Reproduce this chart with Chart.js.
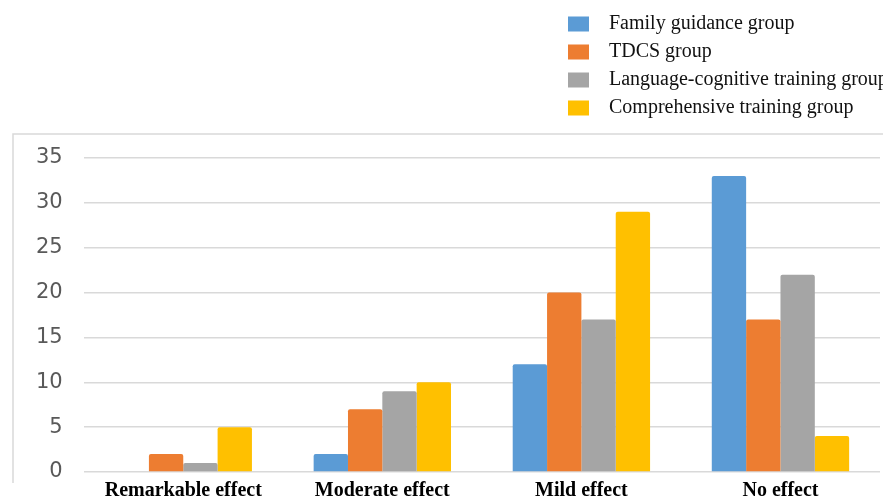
<!DOCTYPE html>
<html>
<head>
<meta charset="utf-8">
<script src="https://cdn.jsdelivr.net/npm/chart.js@4.4.1/dist/chart.umd.min.js"></script>
<style>
  html, body { margin: 0; padding: 0; background: #fff; overflow: hidden; }
  #wrap { width: 883px; height: 510px; }
</style>
</head>
<body>
<div id="wrap"><canvas id="grafico"></canvas></div>
<script>
// Categorías y valores
var categorias = ['Remarkable effect', 'Moderate effect', 'Mild effect', 'No effect'];
var grupos = ['Family guidance group', 'TDCS group', 'Language-cognitive training group', 'Comprehensive training group'];
var familia = [0, 2, 12, 33];
var tdcs = [2, 7, 20, 17];
var lenguaje = [1, 9, 17, 22];
var integral = [5, 10, 29, 4];
var colores = ['#5B9BD5', '#ED7D31', '#A5A5A5', '#FFC000'];

// Leyenda vertical y marco del gráfico
var leyendaMarco = {
  id: 'leyendaMarco',
  afterDraw: function (chart) {
    var c = chart.ctx;
    c.save();
    c.strokeStyle = '#d9d9d9';
    c.lineWidth = 1.5;
    c.beginPath();
    c.moveTo(13, 483);
    c.lineTo(13, 134);
    c.lineTo(883, 134);
    c.stroke();

    c.font = '20px "Liberation Serif", "Times New Roman", serif';
    c.textBaseline = 'middle';
    chart.data.datasets.forEach(function (ds, i) {
      var y = 24 + i * 28;
      c.fillStyle = ds.backgroundColor;
      c.fillRect(568, y - 7.5, 21, 15);
      c.fillStyle = '#111';
      c.fillText(ds.label, 609, y);
    });
    c.restore();
  }
};

var datos = [familia, tdcs, lenguaje, integral];

var config = {
  type: 'bar',
  data: {
    labels: categorias,
    datasets: grupos.map(function (g, i) {
      return {
        label: g,
        data: datos[i],
        backgroundColor: colores[i],
        borderRadius: { topLeft: 2, topRight: 2 },
        borderSkipped: 'bottom',
        categoryPercentage: 0.69,
        barPercentage: 1.0
      };
    })
  },
  options: {
    responsive: true,
    maintainAspectRatio: false,
    animation: false,
    layout: { padding: { top: 158, left: 15, right: 3, bottom: 0 } },
    plugins: {
      legend: { display: false },
      tooltip: { enabled: false }
    },
    scales: {
      x: {
        grid: { display: false, drawTicks: false },
        border: { display: false },
        ticks: {
          color: '#000',
          padding: 9,
          font: { family: '"Liberation Serif", "Times New Roman", serif', size: 20, weight: 'bold', lineHeight: 1 }
        }
      },
      y: {
        min: 0,
        max: 35,
        ticks: {
          stepSize: 5,
          color: '#595959',
          padding: 21,
          font: { family: '"DejaVu Sans", sans-serif', size: 21 }
        },
        grid: { color: '#d9d9d9', lineWidth: 1.5, drawTicks: false },
        border: { display: false }
      }
    }
  },
  plugins: [leyendaMarco]
};

var grafico = new Chart(document.getElementById('grafico').getContext('2d'), config);
</script>
</body>
</html>
